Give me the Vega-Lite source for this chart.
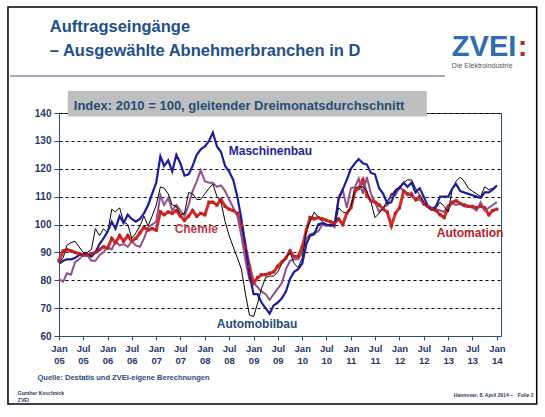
{
  "$schema": "https://vega.github.io/schema/vega-lite/v6.json",
  "width": 442,
  "height": 223,
  "autosize": {"type": "none"},
  "padding": {"left": 59, "top": 113, "right": 44, "bottom": 81},
  "background": "#ffffff",
  "config": {
    "font": "Liberation Sans",
    "view": {"stroke": "#2f4f6f", "strokeWidth": 1}
  },
  "data": {
    "values": [
      {"d": "2005-01-01", "Maschinenbau": 86, "Automobilbau": 86.5, "Chemie": 80.5, "Automation": 87},
      {"d": "2005-02-01", "Maschinenbau": 87, "Automobilbau": 88, "Chemie": 79.5, "Automation": 90.5},
      {"d": "2005-03-01", "Maschinenbau": 87.5, "Automobilbau": 92.5, "Chemie": 82.5, "Automation": 91},
      {"d": "2005-04-01", "Maschinenbau": 87.5, "Automobilbau": 93.5, "Chemie": 82, "Automation": 90.5},
      {"d": "2005-05-01", "Maschinenbau": 88, "Automobilbau": 94, "Chemie": 86.5, "Automation": 90},
      {"d": "2005-06-01", "Maschinenbau": 89, "Automobilbau": 92, "Chemie": 87.5, "Automation": 89.5},
      {"d": "2005-07-01", "Maschinenbau": 89.5, "Automobilbau": 90, "Chemie": 89, "Automation": 89},
      {"d": "2005-08-01", "Maschinenbau": 89.5, "Automobilbau": 90, "Chemie": 89, "Automation": 89},
      {"d": "2005-09-01", "Maschinenbau": 88.5, "Automobilbau": 91, "Chemie": 87, "Automation": 89.5},
      {"d": "2005-10-01", "Maschinenbau": 90, "Automobilbau": 98.5, "Chemie": 87, "Automation": 90},
      {"d": "2005-11-01", "Maschinenbau": 93, "Automobilbau": 96, "Chemie": 89, "Automation": 91},
      {"d": "2005-12-01", "Maschinenbau": 95, "Automobilbau": 98.5, "Chemie": 90, "Automation": 92},
      {"d": "2006-01-01", "Maschinenbau": 97.5, "Automobilbau": 97, "Chemie": 92, "Automation": 91.5},
      {"d": "2006-02-01", "Maschinenbau": 101, "Automobilbau": 105.5, "Chemie": 91, "Automation": 95},
      {"d": "2006-03-01", "Maschinenbau": 98.5, "Automobilbau": 104.5, "Chemie": 94, "Automation": 93.5},
      {"d": "2006-04-01", "Maschinenbau": 103, "Automobilbau": 106, "Chemie": 92.5, "Automation": 96},
      {"d": "2006-05-01", "Maschinenbau": 100.5, "Automobilbau": 101, "Chemie": 93, "Automation": 94},
      {"d": "2006-06-01", "Maschinenbau": 103.5, "Automobilbau": 100, "Chemie": 92, "Automation": 96},
      {"d": "2006-07-01", "Maschinenbau": 102, "Automobilbau": 95, "Chemie": 94, "Automation": 94},
      {"d": "2006-08-01", "Maschinenbau": 101, "Automobilbau": 97, "Chemie": 92.5, "Automation": 95},
      {"d": "2006-09-01", "Maschinenbau": 102, "Automobilbau": 99.5, "Chemie": 92, "Automation": 97},
      {"d": "2006-10-01", "Maschinenbau": 104, "Automobilbau": 103, "Chemie": 95, "Automation": 99},
      {"d": "2006-11-01", "Maschinenbau": 107, "Automobilbau": 99.5, "Chemie": 99, "Automation": 98},
      {"d": "2006-12-01", "Maschinenbau": 111, "Automobilbau": 103, "Chemie": 100, "Automation": 98.5},
      {"d": "2007-01-01", "Maschinenbau": 115, "Automobilbau": 107, "Chemie": 101, "Automation": 98},
      {"d": "2007-02-01", "Maschinenbau": 124.5, "Automobilbau": 113.5, "Chemie": 110.5, "Automation": 104.5},
      {"d": "2007-03-01", "Maschinenbau": 121, "Automobilbau": 113, "Chemie": 107, "Automation": 103.5},
      {"d": "2007-04-01", "Maschinenbau": 123, "Automobilbau": 111, "Chemie": 109.5, "Automation": 104.5},
      {"d": "2007-05-01", "Maschinenbau": 119, "Automobilbau": 107, "Chemie": 105, "Automation": 104},
      {"d": "2007-06-01", "Maschinenbau": 125, "Automobilbau": 106.5, "Chemie": 107, "Automation": 105},
      {"d": "2007-07-01", "Maschinenbau": 122, "Automobilbau": 103.5, "Chemie": 105, "Automation": 103},
      {"d": "2007-08-01", "Maschinenbau": 117.5, "Automobilbau": 104, "Chemie": 103, "Automation": 101.5},
      {"d": "2007-09-01", "Maschinenbau": 118, "Automobilbau": 111.5, "Chemie": 107, "Automation": 103},
      {"d": "2007-10-01", "Maschinenbau": 121, "Automobilbau": 111, "Chemie": 112, "Automation": 105},
      {"d": "2007-11-01", "Maschinenbau": 125, "Automobilbau": 109, "Chemie": 115.5, "Automation": 103},
      {"d": "2007-12-01", "Maschinenbau": 127, "Automobilbau": 109, "Chemie": 119.5, "Automation": 104},
      {"d": "2008-01-01", "Maschinenbau": 128, "Automobilbau": 111, "Chemie": 115.5, "Automation": 103.5},
      {"d": "2008-02-01", "Maschinenbau": 130, "Automobilbau": 113, "Chemie": 115, "Automation": 108},
      {"d": "2008-03-01", "Maschinenbau": 133, "Automobilbau": 114.5, "Chemie": 115, "Automation": 108},
      {"d": "2008-04-01", "Maschinenbau": 128, "Automobilbau": 110, "Chemie": 113.5, "Automation": 107},
      {"d": "2008-05-01", "Maschinenbau": 126, "Automobilbau": 108, "Chemie": 114, "Automation": 109},
      {"d": "2008-06-01", "Maschinenbau": 121, "Automobilbau": 101, "Chemie": 112, "Automation": 106.5},
      {"d": "2008-07-01", "Maschinenbau": 119, "Automobilbau": 96, "Chemie": 109, "Automation": 105.5},
      {"d": "2008-08-01", "Maschinenbau": 116, "Automobilbau": 92, "Chemie": 106, "Automation": 105},
      {"d": "2008-09-01", "Maschinenbau": 110, "Automobilbau": 88, "Chemie": 103, "Automation": 104},
      {"d": "2008-10-01", "Maschinenbau": 102, "Automobilbau": 84, "Chemie": 96, "Automation": 100},
      {"d": "2008-11-01", "Maschinenbau": 92, "Automobilbau": 75, "Chemie": 87, "Automation": 92},
      {"d": "2008-12-01", "Maschinenbau": 82, "Automobilbau": 67.5, "Chemie": 80, "Automation": 85},
      {"d": "2009-01-01", "Maschinenbau": 75, "Automobilbau": 67, "Chemie": 79, "Automation": 79},
      {"d": "2009-02-01", "Maschinenbau": 75, "Automobilbau": 72, "Chemie": 77.5, "Automation": 81},
      {"d": "2009-03-01", "Maschinenbau": 72, "Automobilbau": 77, "Chemie": 76, "Automation": 82},
      {"d": "2009-04-01", "Maschinenbau": 70, "Automobilbau": 81, "Chemie": 75, "Automation": 82},
      {"d": "2009-05-01", "Maschinenbau": 68, "Automobilbau": 81.5, "Chemie": 73, "Automation": 82.5},
      {"d": "2009-06-01", "Maschinenbau": 71, "Automobilbau": 81.5, "Chemie": 75, "Automation": 83},
      {"d": "2009-07-01", "Maschinenbau": 72, "Automobilbau": 83, "Chemie": 77, "Automation": 85},
      {"d": "2009-08-01", "Maschinenbau": 73.5, "Automobilbau": 86, "Chemie": 79, "Automation": 86.5},
      {"d": "2009-09-01", "Maschinenbau": 76, "Automobilbau": 88, "Chemie": 84, "Automation": 88},
      {"d": "2009-10-01", "Maschinenbau": 80.5, "Automobilbau": 90, "Chemie": 87, "Automation": 90.5},
      {"d": "2009-11-01", "Maschinenbau": 83, "Automobilbau": 86, "Chemie": 87.5, "Automation": 88.5},
      {"d": "2009-12-01", "Maschinenbau": 84, "Automobilbau": 84.5, "Chemie": 87.5, "Automation": 88.5},
      {"d": "2010-01-01", "Maschinenbau": 86, "Automobilbau": 88, "Chemie": 90, "Automation": 92},
      {"d": "2010-02-01", "Maschinenbau": 93, "Automobilbau": 98, "Chemie": 95, "Automation": 98},
      {"d": "2010-03-01", "Maschinenbau": 96, "Automobilbau": 101, "Chemie": 96.5, "Automation": 102.5},
      {"d": "2010-04-01", "Maschinenbau": 96.5, "Automobilbau": 104.5, "Chemie": 97, "Automation": 102},
      {"d": "2010-05-01", "Maschinenbau": 100, "Automobilbau": 102.5, "Chemie": 97.5, "Automation": 102.5},
      {"d": "2010-06-01", "Maschinenbau": 100.5, "Automobilbau": 101, "Chemie": 100, "Automation": 102},
      {"d": "2010-07-01", "Maschinenbau": 100, "Automobilbau": 100, "Chemie": 99.5, "Automation": 101.5},
      {"d": "2010-08-01", "Maschinenbau": 99.5, "Automobilbau": 100, "Chemie": 100, "Automation": 101},
      {"d": "2010-09-01", "Maschinenbau": 100, "Automobilbau": 99.5, "Chemie": 99, "Automation": 100.5},
      {"d": "2010-10-01", "Maschinenbau": 109, "Automobilbau": 106, "Chemie": 110, "Automation": 102},
      {"d": "2010-11-01", "Maschinenbau": 112.5, "Automobilbau": 104.5, "Chemie": 112.5, "Automation": 100},
      {"d": "2010-12-01", "Maschinenbau": 116, "Automobilbau": 104, "Chemie": 106, "Automation": 104},
      {"d": "2011-01-01", "Maschinenbau": 120, "Automobilbau": 106, "Chemie": 113, "Automation": 106},
      {"d": "2011-02-01", "Maschinenbau": 122, "Automobilbau": 113, "Chemie": 113.5, "Automation": 112},
      {"d": "2011-03-01", "Maschinenbau": 123.5, "Automobilbau": 113.5, "Chemie": 116.5, "Automation": 113},
      {"d": "2011-04-01", "Maschinenbau": 122, "Automobilbau": 113.5, "Chemie": 111, "Automation": 116},
      {"d": "2011-05-01", "Maschinenbau": 121.5, "Automobilbau": 112, "Chemie": 117, "Automation": 110.5},
      {"d": "2011-06-01", "Maschinenbau": 118.5, "Automobilbau": 108, "Chemie": 111, "Automation": 108.5},
      {"d": "2011-07-01", "Maschinenbau": 118, "Automobilbau": 102.5, "Chemie": 108, "Automation": 108},
      {"d": "2011-08-01", "Maschinenbau": 113, "Automobilbau": 104, "Chemie": 104.5, "Automation": 107},
      {"d": "2011-09-01", "Maschinenbau": 111, "Automobilbau": 106, "Chemie": 106, "Automation": 105.5},
      {"d": "2011-10-01", "Maschinenbau": 107.5, "Automobilbau": 108.5, "Chemie": 107, "Automation": 104.5},
      {"d": "2011-11-01", "Maschinenbau": 108, "Automobilbau": 110.5, "Chemie": 111, "Automation": 99.5},
      {"d": "2011-12-01", "Maschinenbau": 112, "Automobilbau": 112.5, "Chemie": 110.5, "Automation": 104},
      {"d": "2012-01-01", "Maschinenbau": 113, "Automobilbau": 113.5, "Chemie": 113.5, "Automation": 106},
      {"d": "2012-02-01", "Maschinenbau": 115, "Automobilbau": 115, "Chemie": 112, "Automation": 112},
      {"d": "2012-03-01", "Maschinenbau": 113.5, "Automobilbau": 116, "Chemie": 110.5, "Automation": 111},
      {"d": "2012-04-01", "Maschinenbau": 115, "Automobilbau": 116, "Chemie": 111.5, "Automation": 110.5},
      {"d": "2012-05-01", "Maschinenbau": 111.5, "Automobilbau": 113, "Chemie": 108.5, "Automation": 109},
      {"d": "2012-06-01", "Maschinenbau": 113, "Automobilbau": 110.5, "Chemie": 109, "Automation": 110},
      {"d": "2012-07-01", "Maschinenbau": 110, "Automobilbau": 108, "Chemie": 107, "Automation": 107.5},
      {"d": "2012-08-01", "Maschinenbau": 106.5, "Automobilbau": 106, "Chemie": 106.5, "Automation": 106.5},
      {"d": "2012-09-01", "Maschinenbau": 105.5, "Automobilbau": 105, "Chemie": 106, "Automation": 105.5},
      {"d": "2012-10-01", "Maschinenbau": 106.5, "Automobilbau": 106, "Chemie": 105.5, "Automation": 105},
      {"d": "2012-11-01", "Maschinenbau": 110, "Automobilbau": 108, "Chemie": 105, "Automation": 103.5},
      {"d": "2012-12-01", "Maschinenbau": 110, "Automobilbau": 106.5, "Chemie": 104.5, "Automation": 102.5},
      {"d": "2013-01-01", "Maschinenbau": 110, "Automobilbau": 104.5, "Chemie": 107, "Automation": 106},
      {"d": "2013-02-01", "Maschinenbau": 113, "Automobilbau": 113, "Chemie": 107.5, "Automation": 108},
      {"d": "2013-03-01", "Maschinenbau": 114.5, "Automobilbau": 115.5, "Chemie": 107, "Automation": 108.5},
      {"d": "2013-04-01", "Maschinenbau": 112, "Automobilbau": 117, "Chemie": 107.5, "Automation": 107.5},
      {"d": "2013-05-01", "Maschinenbau": 111.5, "Automobilbau": 115.5, "Chemie": 106.5, "Automation": 107},
      {"d": "2013-06-01", "Maschinenbau": 111, "Automobilbau": 113, "Chemie": 106.5, "Automation": 106.5},
      {"d": "2013-07-01", "Maschinenbau": 110.5, "Automobilbau": 112, "Chemie": 106, "Automation": 106.5},
      {"d": "2013-08-01", "Maschinenbau": 110, "Automobilbau": 111, "Chemie": 105, "Automation": 106},
      {"d": "2013-09-01", "Maschinenbau": 109.5, "Automobilbau": 110, "Chemie": 108, "Automation": 106.5},
      {"d": "2013-10-01", "Maschinenbau": 111.5, "Automobilbau": 113.5, "Chemie": 105, "Automation": 106},
      {"d": "2013-11-01", "Maschinenbau": 111.5, "Automobilbau": 112.5, "Chemie": 106, "Automation": 103.5},
      {"d": "2013-12-01", "Maschinenbau": 112.5, "Automobilbau": 113, "Chemie": 107, "Automation": 105},
      {"d": "2014-01-01", "Maschinenbau": 114, "Automobilbau": 114, "Chemie": 108, "Automation": 105.5}
    ]
  },
  "layer": [
    {
      "transform": [{"fold": ["Automation", "Chemie", "Automobilbau", "Maschinenbau"], "as": ["s", "v"]}],
      "mark": {"type": "line", "clip": false},
      "encoding": {
        "x": {
          "field": "d", "type": "temporal",
          "scale": {"type": "utc", "domain": [{"year": 2005, "month": 1, "date": 1, "utc": true}, {"year": 2014, "month": 2, "date": 1, "utc": true}]},
          "axis": {
            "tickCount": {"interval": "month", "step": 6},
            "labelExpr": "[utcFormat(datum.value, '%b'), utcFormat(datum.value, '%y')]",
            "labelFontWeight": "bold", "labelFontSize": 9.5, "labelColor": "#1f3864",
            "labelLineHeight": 12, "labelPadding": 3, "labelBaseline": "top",
            "labelFlush": false, "labelOverlap": false,
            "tickColor": "#2f4f6f", "tickSize": 4, "domainColor": "#2f4f6f", "grid": false,
            "title": "Quelle: Destatis und ZVEI-eigene Berechnungen",
            "titleAnchor": "start", "titleAlign": "left", "titleX": -22, "titleY": 41,
            "titleFontSize": 7.5, "titleFontWeight": "bold", "titleColor": "#1f4e79", "titleBaseline": "middle"
          }
        },
        "y": {
          "field": "v", "type": "quantitative", "title": null,
          "scale": {"domain": [60, 140], "nice": false, "zero": false},
          "axis": {
            "tickCount": 8,
            "grid": true, "gridColor": "#000000", "gridDash": [3, 3], "gridWidth": 1,
            "labelFontWeight": "bold", "labelFontSize": 10, "labelColor": "#1f3864", "labelPadding": 3,
            "tickColor": "#2f4f6f", "tickSize": 5, "domainColor": "#2f4f6f"
          }
        },
        "color": {
          "field": "s", "type": "nominal", "legend": null,
          "scale": {"domain": ["Maschinenbau", "Automobilbau", "Chemie", "Automation"], "range": ["#1c1c9c", "#000000", "#94508a", "#d42b2b"]}
        },
        "strokeWidth": {
          "field": "s", "type": "nominal", "legend": null,
          "scale": {"type": "ordinal", "domain": ["Maschinenbau", "Automobilbau", "Chemie", "Automation"], "range": [2.2, 1, 2, 3]}
        }
      }
    },
    {
      "mark": {"type": "point", "shape": "square", "filled": true, "size": 10, "color": "#c41f1f", "opacity": 1, "clip": false},
      "encoding": {
        "x": {"field": "d", "type": "temporal"},
        "y": {"field": "Automation", "type": "quantitative", "title": null}
      }
    },
    {
      "data": {"values": [{}]},
      "mark": {"type": "rect", "fillOpacity": 0, "fill": "#ffffff", "stroke": "#000000", "strokeWidth": 1.5, "clip": false},
      "encoding": {
        "x": {"datum": {"year": 2003, "month": 12, "date": 15, "utc": true}, "type": "temporal"},
        "x2": {"datum": {"year": 2014, "month": 10, "date": 27, "utc": true}},
        "y": {"datum": 178},
        "y2": {"datum": 35.6}
      }
    },
    {
      "data": {"values": [{}]},
      "mark": {"type": "rule", "color": "#8090a6", "strokeWidth": 1.5, "clip": false},
      "encoding": {
        "x": {"datum": {"year": 2003, "month": 12, "date": 29, "utc": true}, "type": "temporal"},
        "x2": {"datum": {"year": 2012, "month": 12, "date": 7, "utc": true}},
        "y": {"datum": 153.3}
      }
    },
    {
      "data": {"values": [{}]},
      "mark": {"type": "rect", "color": "#bfbfbf", "clip": false},
      "encoding": {
        "x": {"datum": {"year": 2005, "month": 3, "date": 8, "utc": true}, "type": "temporal"},
        "x2": {"datum": {"year": 2012, "month": 7, "date": 24, "utc": true}},
        "y": {"datum": 147.9},
        "y2": {"datum": 138.7}
      }
    },
    {
      "data": {"values": [{}]},
      "mark": {"type": "text", "text": "Index: 2010 = 100, gleitender Dreimonatsdurchschnitt", "align": "left", "baseline": "middle", "fontSize": 13, "fontWeight": "bold", "color": "#1f4e79", "clip": false},
      "encoding": {
        "x": {"datum": {"year": 2005, "month": 4, "date": 22, "utc": true}, "type": "temporal"},
        "y": {"datum": 142.5}
      }
    },
    {
      "data": {"values": [{}]},
      "mark": {"type": "text", "text": "Auftragseingänge", "align": "left", "baseline": "middle", "fontSize": 16.5, "fontWeight": "bold", "color": "#1f4e8a", "clip": false},
      "encoding": {
        "x": {"datum": {"year": 2004, "month": 10, "date": 24, "utc": true}, "type": "temporal"},
        "y": {"datum": 170.85}
      }
    },
    {
      "data": {"values": [{}]},
      "mark": {"type": "text", "text": "– Ausgewählte Abnehmerbranchen in D", "align": "left", "baseline": "middle", "fontSize": 16.5, "fontWeight": "bold", "color": "#1f4e8a", "clip": false},
      "encoding": {
        "x": {"datum": {"year": 2004, "month": 10, "date": 24, "utc": true}, "type": "temporal"},
        "y": {"datum": 162.1}
      }
    },
    {
      "data": {"values": [{}]},
      "mark": {"type": "text", "text": "ZVEI", "align": "left", "baseline": "alphabetic", "fontSize": 29, "fontWeight": "bold", "color": "#2e6db4", "clip": false},
      "encoding": {
        "x": {"datum": {"year": 2013, "month": 1, "date": 28, "utc": true}, "type": "temporal"},
        "y": {"datum": 160.4}
      }
    },
    {
      "data": {"values": [{}]},
      "mark": {"type": "text", "text": ":", "align": "left", "baseline": "alphabetic", "fontSize": 29, "fontWeight": "bold", "color": "#c0282d", "clip": false},
      "encoding": {
        "x": {"datum": {"year": 2014, "month": 6, "date": 6, "utc": true}, "type": "temporal"},
        "y": {"datum": 160.4}
      }
    },
    {
      "data": {"values": [{}]},
      "mark": {"type": "text", "text": "Die Elektroindustrie", "align": "left", "baseline": "middle", "fontSize": 7, "color": "#555555", "clip": false},
      "encoding": {
        "x": {"datum": {"year": 2013, "month": 1, "date": 28, "utc": true}, "type": "temporal"},
        "y": {"datum": 156.9}
      }
    },
    {
      "data": {"values": [{}]},
      "mark": {"type": "text", "text": "Maschinenbau", "align": "left", "baseline": "middle", "fontSize": 12, "fontWeight": "bold", "color": "#1f1f9a", "clip": false},
      "encoding": {
        "x": {"datum": {"year": 2008, "month": 6, "date": 28, "utc": true}, "type": "temporal"},
        "y": {"datum": 126.4}
      }
    },
    {
      "data": {"values": [{}]},
      "mark": {"type": "text", "text": "Chemie", "align": "left", "baseline": "middle", "fontSize": 12, "fontWeight": "bold", "color": "#c43848", "clip": false},
      "encoding": {
        "x": {"datum": {"year": 2007, "month": 5, "date": 19, "utc": true}, "type": "temporal"},
        "y": {"datum": 98.4}
      }
    },
    {
      "data": {"values": [{}]},
      "mark": {"type": "text", "text": "Automobilbau", "align": "left", "baseline": "middle", "fontSize": 12, "fontWeight": "bold", "color": "#1f4e79", "clip": false},
      "encoding": {
        "x": {"datum": {"year": 2008, "month": 3, "date": 30, "utc": true}, "type": "temporal"},
        "y": {"datum": 64.3}
      }
    },
    {
      "data": {"values": [{}]},
      "mark": {"type": "text", "text": "Automation", "align": "left", "baseline": "middle", "fontSize": 12, "fontWeight": "bold", "color": "#b8202a", "clip": false},
      "encoding": {
        "x": {"datum": {"year": 2012, "month": 10, "date": 7, "utc": true}, "type": "temporal"},
        "y": {"datum": 97}
      }
    },
    {
      "data": {"values": [{}]},
      "mark": {"type": "text", "text": ["Gunther Koschnick", "ZVEI"], "align": "left", "baseline": "middle", "lineHeight": 7, "fontSize": 5, "fontWeight": "bold", "color": "#1f3864", "clip": false},
      "encoding": {
        "x": {"datum": {"year": 2004, "month": 2, "date": 27, "utc": true}, "type": "temporal"},
        "y": {"datum": 39.7}
      }
    },
    {
      "data": {"values": [{}]},
      "mark": {"type": "text", "text": "Hannover, 8. April 2014 –", "align": "left", "baseline": "middle", "fontSize": 5, "fontWeight": "bold", "color": "#1f3864", "clip": false},
      "encoding": {
        "x": {"datum": {"year": 2013, "month": 2, "date": 12, "utc": true}, "type": "temporal"},
        "y": {"datum": 38.8}
      }
    },
    {
      "data": {"values": [{}]},
      "mark": {"type": "text", "text": "Folie 2", "align": "left", "baseline": "middle", "fontSize": 5, "fontWeight": "bold", "color": "#1f3864", "clip": false},
      "encoding": {
        "x": {"datum": {"year": 2014, "month": 6, "date": 6, "utc": true}, "type": "temporal"},
        "y": {"datum": 38.8}
      }
    }
  ]
}
